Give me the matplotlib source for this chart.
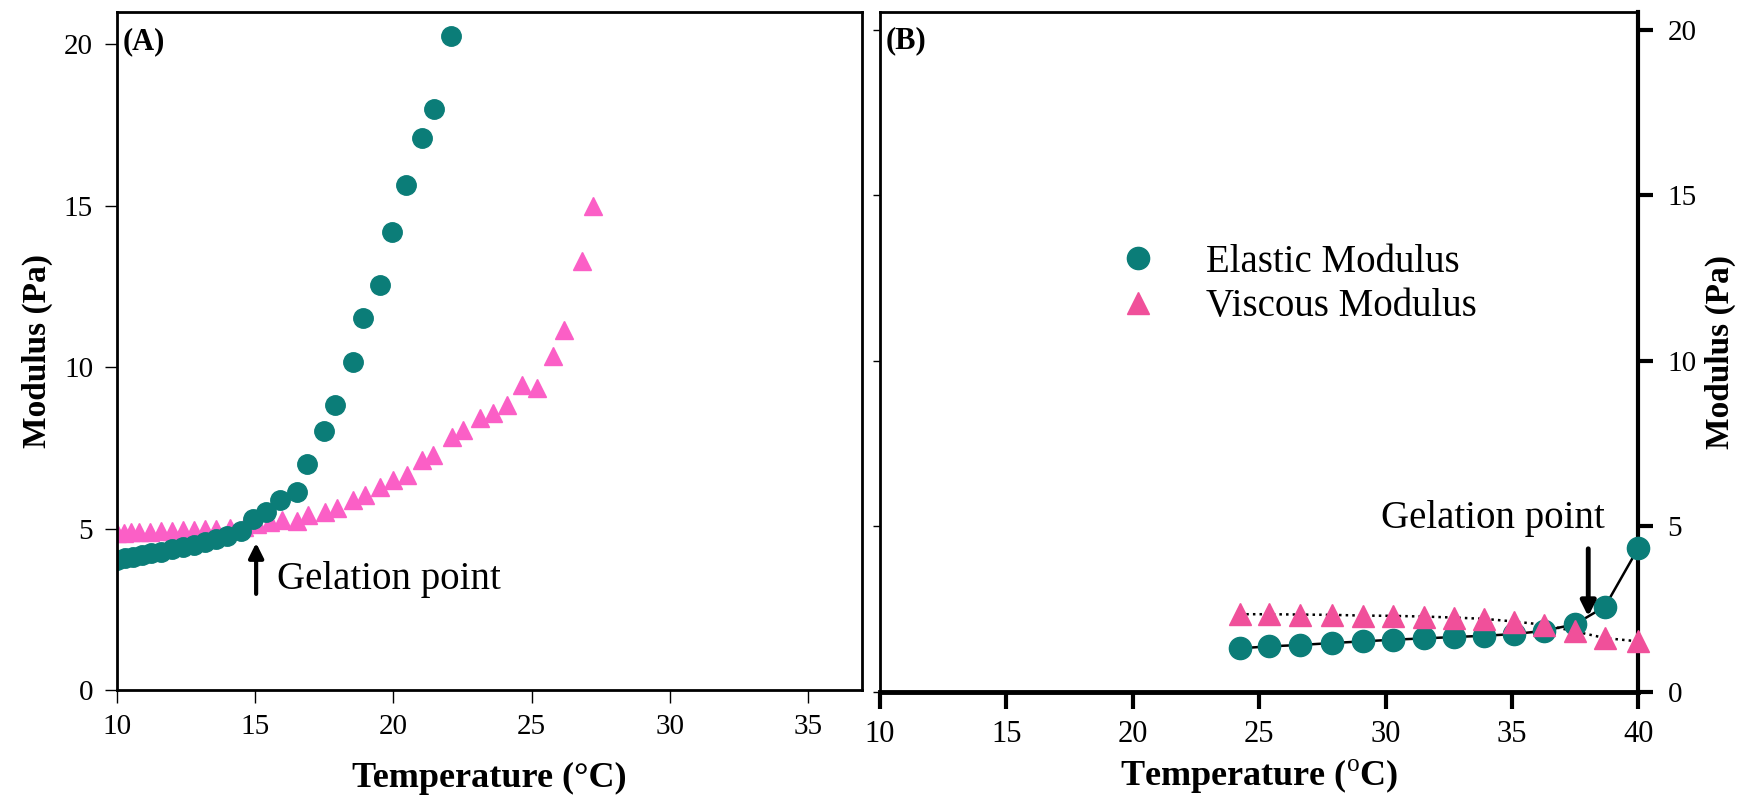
import matplotlib
matplotlib.use("Agg")
import matplotlib.pyplot as plt

plt.rcParams["font.family"] = ["Liberation Serif", "DejaVu Serif"]
plt.rcParams["mathtext.fontset"] = "custom"
plt.rcParams["mathtext.rm"] = "Liberation Serif"

# ---- panel A data ----
a_elastic_T = [10.0, 10.3, 10.6, 10.9, 11.25, 11.6, 12.0, 12.4, 12.8, 13.2, 13.6, 14.0, 14.5,
               14.92, 15.39, 15.92, 16.51, 16.89, 17.49, 17.90, 18.53, 18.92, 19.51, 19.96,
               20.47, 21.03, 21.48, 22.09]
a_elastic_G = [4.02, 4.08, 4.13, 4.18, 4.23, 4.28, 4.35, 4.42, 4.50, 4.58, 4.68, 4.78, 4.92,
               5.28, 5.52, 5.88, 6.12, 6.99, 8.03, 8.81, 10.14, 11.52, 12.53, 14.18,
               15.63, 17.08, 17.99, 20.25]
a_viscous_T = [10.0, 10.25, 10.5, 10.8, 11.2, 11.6, 12.0, 12.4, 12.8, 13.2, 13.6, 14.1, 14.6,
               15.06, 15.54, 15.97, 16.51, 16.93, 17.53, 17.95, 18.55, 18.98, 19.52, 20.0,
               20.48, 21.03, 21.45, 22.11, 22.53, 23.13, 23.62, 24.12, 24.64, 25.18, 25.76,
               26.18, 26.83, 27.23]
a_viscous_G = [4.86, 4.87, 4.88, 4.89, 4.90, 4.91, 4.92, 4.94, 4.96, 4.98, 5.00, 5.03, 5.06,
               5.14, 5.20, 5.25, 5.22, 5.41, 5.52, 5.62, 5.88, 6.03, 6.29, 6.50,
               6.65, 7.12, 7.28, 7.84, 8.05, 8.42, 8.57, 8.83, 9.45, 9.35, 10.35,
               11.16, 13.28, 14.99]

# ---- panel B data ----
b_T = [24.23, 25.41, 26.61, 27.89, 29.11, 30.30, 31.51, 32.69, 33.91, 35.09, 36.28, 37.50,
       38.68, 40.0]
b_elastic_G = [1.32, 1.38, 1.42, 1.48, 1.53, 1.58, 1.62, 1.66, 1.70, 1.75, 1.85, 2.05, 2.58, 4.35]
b_viscous_G = [2.35, 2.35, 2.34, 2.33, 2.31, 2.30, 2.28, 2.25, 2.21, 2.13, 2.03, 1.83, 1.63, 1.53]

TEAL = "#0b7d78"
PINK_A = "#fb5fc6"
PINK_B = "#f0509a"

fig = plt.figure(figsize=(17.55, 8.09), dpi=100)
axA = fig.add_axes([0.0665, 0.1471, 0.4245, 0.8384])
axB = fig.add_axes([0.5014, 0.1446, 0.4321, 0.8409])

# ---- (A) ----
axA.plot(a_viscous_T, a_viscous_G, ls="none", marker="^", ms=13, color=PINK_A, mec=PINK_A)
axA.plot(a_elastic_T, a_elastic_G, ls="none", marker="o", ms=14, color=TEAL, mec=TEAL)
axA.set_xlim(10, 36.93)
axA.set_ylim(0, 21.0)
axA.set_xticks([10, 15, 20, 25, 30, 35])
axA.set_yticks([0, 5, 10, 15, 20])
axA.tick_params(direction="out", length=9, width=1.0, labelsize=21, pad=8)
for s in axA.spines.values():
    s.set_linewidth(2)
axA.set_xlabel("Temperature (°C)", fontsize=26, fontweight="bold", labelpad=16)
axA.set_ylabel("Modulus (Pa)", fontsize=24, fontweight="bold", labelpad=8)
axA.text(0.008, 0.956, "(A)", transform=axA.transAxes, fontsize=22, fontweight="bold",
         va="center", ha="left")
axA.annotate("", xy=(15.04, 4.64), xytext=(15.04, 2.89),
             arrowprops=dict(arrowstyle="-|>", lw=3, color="black", mutation_scale=22))
axA.text(15.78, 3.12, "Gelation point", fontsize=28, ha="left", va="baseline")

# ---- (B) ----
axB.plot(b_T, b_viscous_G, ls=":", lw=1.8, color="black", zorder=2, clip_on=False)
axB.plot(b_T, b_elastic_G, ls="-", lw=1.8, color="black", zorder=2, clip_on=False)
axB.plot(b_T, b_elastic_G, ls="none", marker="o", ms=16, color=TEAL, mec=TEAL, zorder=3,
         label="Elastic Modulus", clip_on=False)
axB.plot(b_T, b_viscous_G, ls="none", marker="^", ms=16.5, color=PINK_B, mec=PINK_B, zorder=4,
         label="Viscous Modulus", clip_on=False)
axB.set_xlim(10, 40)
axB.set_ylim(0, 20.55)
axB.set_xticks([10, 15, 20, 25, 30, 35, 40])
axB.set_yticks([0, 5, 10, 15, 20])
axB.yaxis.tick_right()
axB.yaxis.set_label_position("right")
axB.tick_params(axis="x", direction="out", length=12, width=3, labelsize=22, pad=8)
axB.tick_params(axis="y", direction="out", length=11, width=3, labelsize=21,
                pad=10, left=True, right=True, labelleft=False, labelright=True)
# the left-hand ticks of panel B are only short thin stubs
for t in axB.yaxis.get_major_ticks():
    t.tick1line.set_markersize(5)
    t.tick1line.set_markeredgewidth(1)
for s in axB.spines.values():
    s.set_linewidth(2)
axB.spines["bottom"].set_linewidth(3.5)
axB.spines["right"].set_linewidth(3)
axB.set_xlabel("Temperature ($^{\\rm o}$C)", fontsize=26, fontweight="bold", labelpad=6)
axB.set_ylabel("Modulus (Pa)", fontsize=24, fontweight="bold", labelpad=6, rotation=90)
axB.text(0.008, 0.958, "(B)", transform=axB.transAxes, fontsize=22, fontweight="bold",
         va="center", ha="left")
axB.annotate("", xy=(38.02, 2.2), xytext=(38.02, 4.41),
             arrowprops=dict(arrowstyle="-|>", lw=3.5, color="black", mutation_scale=22))
axB.text(29.81, 4.95, "Gelation point", fontsize=28, ha="left", va="baseline")

leg = axB.legend(loc="center left", bbox_to_anchor=(0.314, 0.599), frameon=False,
                 fontsize=28, handlelength=1.0, handletextpad=1.25, labelspacing=0.2,
                 borderpad=0, borderaxespad=0, markerscale=1.0)

fig.savefig("out.png", dpi=100)
